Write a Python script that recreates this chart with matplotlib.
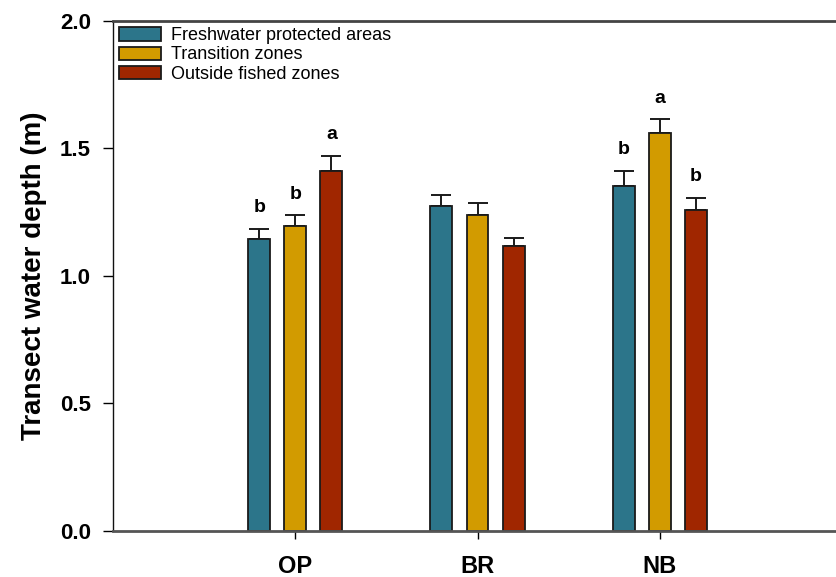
import numpy as np
import matplotlib
matplotlib.use('Agg')
from matplotlib import pyplot as plt

# Datos
sites = ['OP', 'BR', 'NB']
zones = ['Freshwater protected areas', 'Transition zones', 'Outside fished zones']
depth_fpa = [1.145, 1.276, 1.352]
depth_tz = [1.197, 1.238, 1.562]
depth_ofz = [1.412, 1.118, 1.258]
se_fpa = [0.040, 0.042, 0.060]
se_tz = [0.041, 0.049, 0.053]
se_ofz = [0.059, 0.030, 0.048]
letters_fpa = ['b', '', 'b']
letters_tz = ['b', '', 'a']
letters_ofz = ['a', '', 'b']

colors = ['#2C758A', '#D29B00', '#A02600']

plt.rcParams['font.family'] = ['Liberation Sans', 'DejaVu Sans']

fig = plt.figure(figsize=(8.37, 5.77), dpi=100)
ax = fig.add_axes([0.135, 0.0797, 0.871, 0.884])

x = np.arange(len(sites))
width = 0.12
offsets = [-0.198, 0, 0.198]
series = [(depth_fpa, se_fpa, letters_fpa),
          (depth_tz, se_tz, letters_tz),
          (depth_ofz, se_ofz, letters_ofz)]

for i, (vals, errs, lets) in enumerate(series):
    pos = x + offsets[i]
    ax.bar(pos, vals, width, color=colors[i], edgecolor='#1a1a1a',
           linewidth=1.3, label=zones[i], zorder=2)
    ax.errorbar(pos, vals, yerr=[np.zeros(len(vals)), errs], fmt='none',
                ecolor='#1a1a1a', elinewidth=1.4, capsize=7.5, capthick=1.4,
                zorder=1)
    for p, v, e, t in zip(pos, vals, errs, lets):
        if t:
            ax.annotate(t, (p, v + e), xytext=(0, 9), textcoords='offset points',
                        ha='center', va='bottom', fontsize=14, fontweight='bold')

ax.set_xlim(-1, 3)
ax.set_ylim(0, 2.0)
ax.set_yticks([0.0, 0.5, 1.0, 1.5, 2.0])
ax.set_yticklabels(['0.0', '0.5', '1.0', '1.5', '2.0'])
ax.set_xticks(x)
ax.set_xticklabels(sites)

ax.spines['right'].set_visible(False)
ax.spines['top'].set_linewidth(2)
ax.spines['top'].set_color('#444444')
ax.spines['bottom'].set_linewidth(2)
ax.spines['bottom'].set_color('#555555')
ax.spines['left'].set_linewidth(1)
ax.spines['left'].set_color('#111111')

ax.tick_params(axis='y', direction='out', length=7, width=1, pad=9,
               labelsize=16)
ax.tick_params(axis='x', direction='out', length=6, width=1, pad=11,
               labelsize=17)
for lab in ax.get_xticklabels() + ax.get_yticklabels():
    lab.set_fontweight('bold')

ax.set_ylabel('Transect water depth (m)', fontsize=20, fontweight='bold',
              labelpad=9)

leg = ax.legend(loc='upper left', bbox_to_anchor=(0.0, 1.0), frameon=False,
                fontsize=13, handlelength=2.3, handleheight=0.75,
                handletextpad=0.55, labelspacing=0.12, borderaxespad=0.15,
                borderpad=0.2)

plt.savefig('out.png', dpi=100)
